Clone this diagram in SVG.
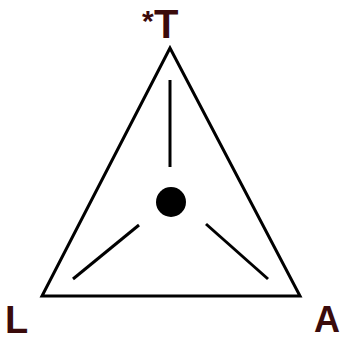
<svg xmlns="http://www.w3.org/2000/svg" width="342" height="341" viewBox="0 0 342 341">
<style>
.ln{stroke:#000;stroke-width:3;fill:none;stroke-linecap:butt}
.lb{font-family:"Liberation Sans",Arial,sans-serif;font-weight:bold;fill:#3a0b0b;font-size:38px}
</style>
<rect width="342" height="341" fill="#fff"/>
<g id="triangle"><polygon class="ln" points="170,48 42,296 300,296" stroke-linejoin="miter"/></g>
<g id="center"><circle cx="171" cy="202" r="15" fill="#000"/></g>
<g id="connectors">
<line class="ln" x1="170" y1="80" x2="170" y2="167"/>
<line class="ln" x1="73" y1="279" x2="139" y2="225"/>
<line class="ln" x1="206" y1="224" x2="268" y2="279"/>
</g>
<g id="labels">
<text class="lb" x="142" y="31" style="font-size:30px">*</text>
<text class="lb" x="154" y="38" style="font-size:40px">T</text>
<text class="lb" x="5" y="333">L</text>
<text class="lb" x="314" y="332" style="font-size:36px">A</text>
</g>
</svg>
